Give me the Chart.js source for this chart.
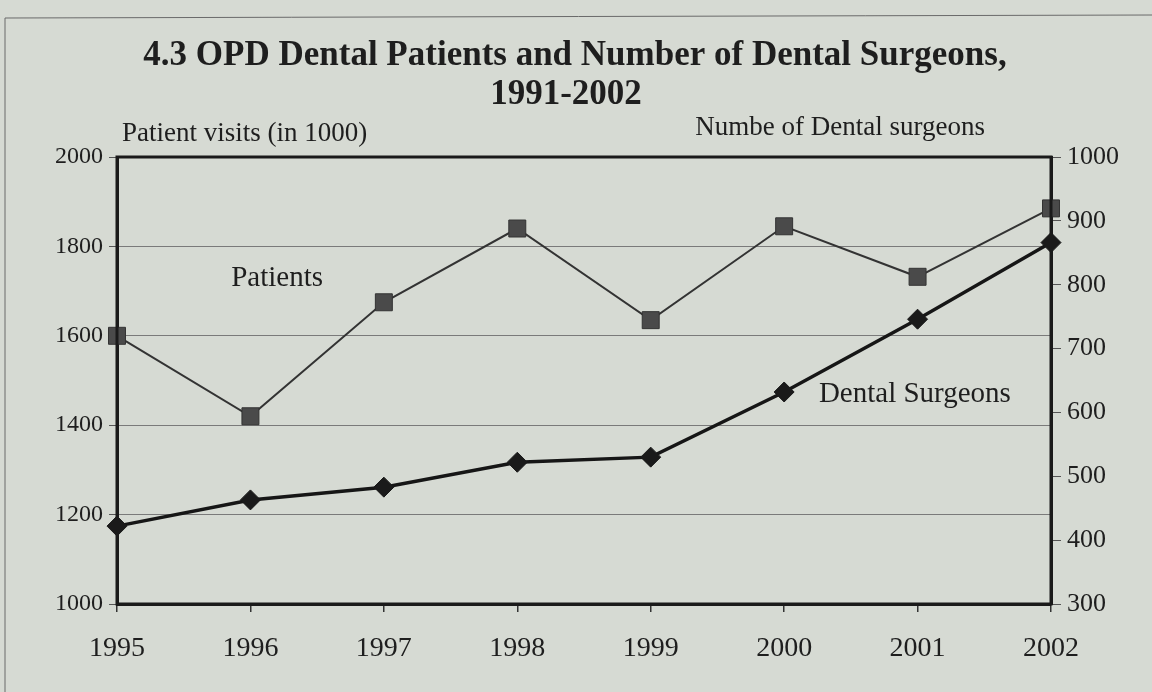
<!DOCTYPE html>
<html>
<head>
<meta charset="utf-8">
<script src="https://cdn.jsdelivr.net/npm/chart.js@4"></script>
<style>
  body { margin: 0; background: #d6dad3; }
  #wrap { width: 1152px; height: 692px; }
</style>
</head>
<body>
<div id="wrap"><canvas id="grafico" width="1152" height="692"></canvas></div>
<script>
// Dados
const anos = ['1995', '1996', '1997', '1998', '1999', '2000', '2001', '2002'];
const pacientes = [1600, 1420, 1675, 1840, 1635, 1845, 1732, 1885];
const cirurgioes = [422, 463, 483, 522, 530, 632, 746, 866];

const titulo = ['4.3 OPD Dental Patients and Number of Dental Surgeons,', '1991-2002'];
const tituloEsq = 'Patient visits (in 1000)';
const tituloDir = 'Numbe of Dental surgeons';
const rotulos = [
    { texto: 'Patients', x: 1.2, y: 1729 },
    { texto: 'Dental Surgeons', x: 5.98, y: 1470 }
];

const serif = "'Liberation Serif', 'Times New Roman', serif";
const tinta = '#1e1e1e';

// Fundo, moldura e textos extras
const decoracao = {
    id: 'decoracao',
    beforeDraw(chart) {
        const ctx = chart.ctx;
        ctx.save();
        ctx.fillStyle = '#d6dad3';
        ctx.fillRect(0, 0, chart.width, chart.height);
        ctx.strokeStyle = '#6a6a6a';
        ctx.lineWidth = 1;
        ctx.beginPath();
        ctx.moveTo(5, 692);
        ctx.lineTo(5, 18);
        ctx.lineTo(1152, 15);
        ctx.stroke();
        ctx.restore();
    },
    afterDraw(chart) {
        const ctx = chart.ctx;
        const a = chart.chartArea;
        ctx.save();
        ctx.fillStyle = tinta;
        ctx.textBaseline = 'middle';

        // Título
        ctx.textAlign = 'center';
        ctx.font = `bold 35px ${serif}`;
        ctx.fillText(titulo[0], 575, 56);
        ctx.fillText(titulo[1], 566, 95);

        // Títulos dos eixos
        ctx.font = `27px ${serif}`;
        ctx.textAlign = 'left';
        ctx.fillText(tituloEsq, a.left + 5, a.top - 23);
        ctx.textAlign = 'right';
        ctx.fillText(tituloDir, a.right - 66, a.top - 29);

        // Rótulos das séries
        ctx.font = `29px ${serif}`;
        ctx.textAlign = 'center';
        const sx = chart.scales.x, sy = chart.scales.y;
        rotulos.forEach(r => {
            ctx.fillText(r.texto, sx.getPixelForValue(r.x), sy.getPixelForValue(r.y));
        });

        // Moldura da área do gráfico
        ctx.strokeStyle = '#1a1a1a';
        ctx.lineWidth = 3;
        ctx.strokeRect(a.left, a.top, a.right - a.left, a.bottom - a.top);
        ctx.restore();
    }
};

const semMilhar = v => String(v);

new Chart(document.getElementById('grafico'), {
    type: 'line',
    data: {
        labels: anos,
        datasets: [
            {
                label: 'Patients',
                data: pacientes,
                yAxisID: 'y',
                borderColor: '#333333',
                borderWidth: 2,
                pointStyle: 'rect',
                pointRadius: 12,
                pointBackgroundColor: '#4a4a4a',
                pointBorderColor: '#333333',
                pointBorderWidth: 1,
                tension: 0
            },
            {
                label: 'Dental Surgeons',
                data: cirurgioes,
                yAxisID: 'y1',
                borderColor: '#161616',
                borderWidth: 3.5,
                pointStyle: 'rectRot',
                pointRadius: 10,
                pointBackgroundColor: '#1a1a1a',
                pointBorderColor: '#1a1a1a',
                pointBorderWidth: 1,
                tension: 0
            }
        ]
    },
    options: {
        responsive: false,
        animation: false,
        layout: { padding: { top: 157, left: 0, right: 0, bottom: 0 } },
        plugins: {
            legend: { display: false },
            title: { display: false },
            tooltip: { enabled: false }
        },
        scales: {
            x: {
                offset: false,
                afterFit: s => { s.height = 88; },
                grid: { drawOnChartArea: false, tickLength: 8, color: '#333', lineWidth: 1.5 },
                border: { color: '#1a1a1a', width: 3 },
                ticks: { color: tinta, font: { family: serif, size: 28 }, padding: 20, maxRotation: 0 }
            },
            y: {
                position: 'left',
                min: 1000, max: 2000,
                afterFit: s => { s.width = 117; },
                ticks: { stepSize: 200, color: tinta, font: { family: serif, size: 24 }, padding: 6, callback: semMilhar },
                grid: { color: '#7a7a7a', lineWidth: 1, tickLength: 8, tickColor: '#555' },
                border: { color: '#1a1a1a', width: 3 }
            },
            y1: {
                position: 'right',
                min: 300, max: 1000,
                afterFit: s => { s.width = 101; },
                ticks: { stepSize: 100, color: tinta, font: { family: serif, size: 26 }, padding: 6, callback: semMilhar },
                grid: { drawOnChartArea: false, tickLength: 10, color: '#555' },
                border: { color: '#1a1a1a', width: 3 }
            }
        }
    },
    plugins: [decoracao]
});
</script>
</body>
</html>
